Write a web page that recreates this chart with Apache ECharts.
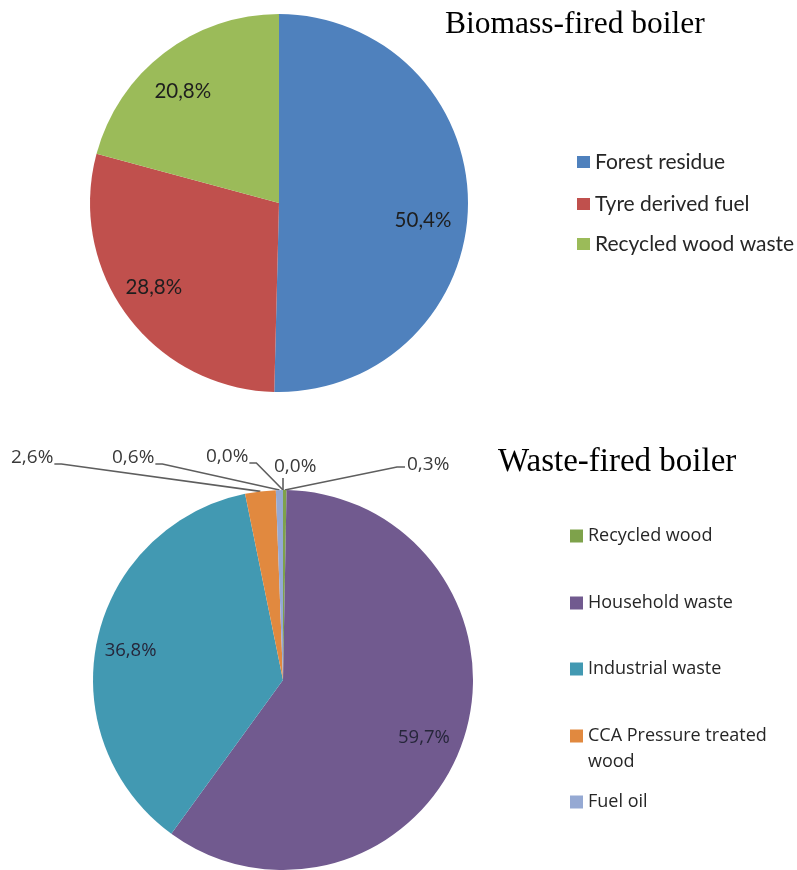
<!DOCTYPE html>
<html>
<head>
<meta charset="utf-8">
<script src="https://cdn.jsdelivr.net/npm/echarts@6/dist/echarts.min.js"></script>
<style>
  html, body { margin: 0; padding: 0; background: #ffffff; }
  #chart { width: 797px; height: 870px; }
</style>
</head>
<body>
<div id="chart"></div>
<script>
// Fuel mix of the two boilers, shares in percent
const biomassNames = ['Forest residue', 'Tyre derived fuel', 'Recycled wood waste'];
const biomassValues = [50.4, 28.8, 20.8];
const biomassColors = ['#4F81BD', '#C0504D', '#9BBB59'];

const wasteNames = ['Recycled wood', 'Household waste', 'Industrial waste',
  'CCA Pressure treated wood', 'Fuel oil', 'Other fuel A', 'Other fuel B'];
const wasteValues = [0.3, 59.7, 36.8, 2.6, 0.6, 0.0, 0.0];
const wasteColors = ['#7EA24B', '#715A8F', '#4299B2', '#E1893F', '#95A9D3', '#B0B0B0', '#D0D0D0'];
const wasteLegendNames = ['Recycled wood', 'Household waste', 'Industrial waste',
  'CCA Pressure treated wood', 'Fuel oil'];
const wasteInsideNames = ['Household waste', 'Industrial waste'];

const chartTitles = ['Biomass-fired boiler', 'Waste-fired boiler'];

const fmtPct = v => v.toFixed(1).replace('.', ',') + '%';

// Legend rows: vertical centre of each entry
const biomassLegendRows = [162, 204, 244];
const wasteLegendRows = [536, 603, 669, 736, 802];

// Where the small-slice labels of the waste pie sit, and which way their leader runs
const wasteLabelSpots = {
  'Recycled wood': { x: 407, y: 465, side: 'right' },
  'CCA Pressure treated wood': { x: 11, y: 458, side: 'left' },
  'Fuel oil': { x: 112, y: 458, side: 'left' },
  'Other fuel A': { x: 206, y: 457, side: 'left' },
  'Other fuel B': { x: 274, y: 467, side: 'top' }
};

// Nudges of the in-slice labels away from the ring midline
const biomassLabelShift = { 'Forest residue': [-6, 16], 'Tyre derived fuel': [-5, -5], 'Recycled wood waste': [-5, 7] };
const wasteLabelShift = { 'Household waste': [-7, 8], 'Industrial waste': [0, 4] };

const chart = echarts.init(document.getElementById('chart'), null, { renderer: 'canvas' });

const topFont = 'Lato';
const botFont = 'Open Sans';

function legendFor(name, centerY, x, font, size, iw, ih) {
  const twoLine = name === 'CCA Pressure treated wood';
  const lh = 26;
  return {
    orient: 'vertical',
    left: x,
    top: twoLine ? centerY - (lh * 3) / 2 : centerY - size / 2,
    padding: 0,
    data: [name],
    icon: 'rect',
    itemWidth: iw,
    itemHeight: ih,
    selectedMode: false,
    // the leading empty line keeps the marker level with the first text line
    formatter: twoLine ? '\nCCA Pressure treated\nwood' : '{name}',
    textStyle: twoLine
      ? { fontFamily: font, fontSize: size, color: '#262626', lineHeight: lh }
      : { fontFamily: font, fontSize: size, color: '#262626' }
  };
}

const legends = [];
biomassNames.forEach((n, i) => legends.push(legendFor(n, biomassLegendRows[i], 577, topFont, 21, 13, 12)));
wasteLegendNames.forEach((n, i) => legends.push(legendFor(n, wasteLegendRows[i], 570, botFont, 18, 13, 13)));

const option = {
  backgroundColor: '#ffffff',
  animation: false,
  title: [
    { text: chartTitles[0], left: 445, top: 9, padding: 0,
      textStyle: { fontFamily: 'Liberation Serif', fontSize: 31.5, fontWeight: 'normal', color: '#000' } },
    { text: chartTitles[1], left: 498, top: 446, padding: 0,
      textStyle: { fontFamily: 'Liberation Serif', fontSize: 33, fontWeight: 'normal', color: '#000' } }
  ],
  legend: legends,
  series: [
    {
      name: 'Biomass-fired boiler',
      type: 'pie',
      center: [279, 203],
      radius: 189,
      startAngle: 90,
      clockwise: true,
      silent: true,
      label: { show: false },
      labelLine: { show: false },
      itemStyle: { borderWidth: 0 },
      data: biomassNames.map((n, i) => ({ name: n, value: biomassValues[i], itemStyle: { color: biomassColors[i] } }))
    },
    {
      // transparent ring that carries the in-slice labels of the biomass pie
      name: 'Biomass labels',
      type: 'pie',
      center: [279, 203],
      radius: [105, 189],
      startAngle: 90,
      clockwise: true,
      silent: true,
      legendHoverLink: false,
      itemStyle: { color: 'rgba(0,0,0,0)', borderWidth: 0 },
      labelLine: { show: false },
      label: {
        show: true, position: 'inside',
        fontFamily: topFont, fontSize: 20.5, color: '#1e1e1e',
        formatter: p => fmtPct(p.value)
      },
      data: biomassNames.map((n, i) => ({
        name: n, value: biomassValues[i],
        label: { offset: biomassLabelShift[n] || [0, 0] }
      }))
    },
    {
      name: 'Waste-fired boiler',
      type: 'pie',
      center: [283, 680],
      radius: 190,
      startAngle: 90,
      clockwise: true,
      silent: true,
      avoidLabelOverlap: false,
      itemStyle: { borderWidth: 0 },
      label: {
        show: true, position: 'outside',
        fontFamily: botFont, fontSize: 19, color: '#3a3a3a',
        formatter: p => fmtPct(p.value)
      },
      labelLine: { show: true, length: 10, length2: 10, lineStyle: { color: '#5e5e5e', width: 1.6 } },
      labelLayout: function (p) {
        const spot = wasteLabelSpots[wasteNames[p.dataIndex]];
        if (!spot) return {};
        const w = p.labelRect.width;
        const a = p.labelLinePoints ? [p.labelLinePoints[0][0], p.labelLinePoints[0][1]] : null;
        let pts;
        if (a) {
          if (spot.side === 'left') {
            const ex = spot.x + w + 1;
            pts = [a, [ex + 7, spot.y + 6], [ex, spot.y + 6]];
          } else if (spot.side === 'right') {
            const ex = spot.x - 2;
            pts = [a, [ex - 8, spot.y + 2], [ex, spot.y + 2]];
          } else {
            pts = [a, [a[0], spot.y + 11]];
          }
        }
        const out = { x: spot.x, y: spot.y, align: 'left', verticalAlign: 'middle' };
        if (pts) out.labelLinePoints = pts;
        return out;
      },
      data: wasteNames.map((n, i) => ({
        name: n, value: wasteValues[i],
        itemStyle: { color: wasteColors[i] },
        label: { show: wasteInsideNames.indexOf(n) < 0 },
        labelLine: { show: wasteInsideNames.indexOf(n) < 0 }
      }))
    },
    {
      // transparent ring that carries the in-slice labels of the large waste slices
      name: 'Waste labels',
      type: 'pie',
      center: [283, 680],
      radius: [116, 190],
      startAngle: 90,
      clockwise: true,
      silent: true,
      legendHoverLink: false,
      itemStyle: { color: 'rgba(0,0,0,0)', borderWidth: 0 },
      labelLine: { show: false },
      label: {
        show: true, position: 'inside',
        fontFamily: botFont, fontSize: 18.5, color: '#26263a',
        formatter: p => fmtPct(p.value)
      },
      data: wasteNames.map((n, i) => ({
        name: n, value: wasteValues[i],
        label: { show: wasteInsideNames.indexOf(n) >= 0, offset: wasteLabelShift[n] || [0, 0] }
      }))
    }
  ]
};

chart.setOption(option);
</script>
</body>
</html>
